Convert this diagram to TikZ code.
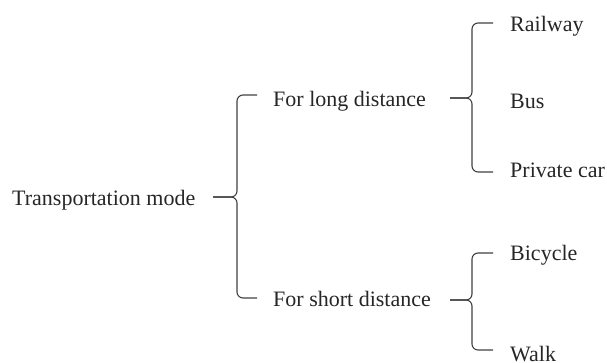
\documentclass[tikz,border=0pt]{standalone}
\usepackage{fontspec}
\setmainfont{Liberation Serif}
\begin{document}
\begin{tikzpicture}[x=1pt,y=-1pt,
  lbl/.style={anchor=base west,inner sep=0pt,text=black!85,font=\fontsize{22}{26}\selectfont},
  bracepath/.style={draw=black!75,line width=1.1pt,rounded corners=6pt}]
\useasboundingbox (0,0) rectangle (607,362);
% texts
\node[lbl] (tm) at (12,205) {Transportation mode};
\node[lbl] (ld) at (273,106) {For long distance};
\node[lbl] (sd) at (273,306) {For short distance};
\node[lbl] (rw) at (510,31) {Railway};
\node[lbl] (bus) at (510,108) {Bus};
\node[lbl] (pc) at (510,177) {Private car};
\node[lbl] (bc) at (510,260) {Bicycle};
\node[lbl] (wk) at (510,361) {Walk};
% brace points
\coordinate (m0) at (213,197);
\coordinate (m1) at (257,95);
\coordinate (m2) at (257,298);
\coordinate (l0) at (450,98);
\coordinate (l1) at (493,23);
\coordinate (l2) at (493,172);
\coordinate (s0) at (450,300);
\coordinate (s1) at (493,253);
\coordinate (s2) at (493,350);
% braces
\draw[bracepath] (m1) -- (237,95) -- (237,197) -- (m0);
\draw[bracepath] (m0) -- (237,197) -- (237,298) -- (m2);
\draw[bracepath] (l1) -- (472,23) -- (472,98) -- (l0);
\draw[bracepath] (l0) -- (472,98) -- (472,172) -- (l2);
\draw[bracepath] (s1) -- (472,253) -- (472,300) -- (s0);
\draw[bracepath] (s0) -- (472,300) -- (472,350) -- (s2);
\end{tikzpicture}
\end{document}
